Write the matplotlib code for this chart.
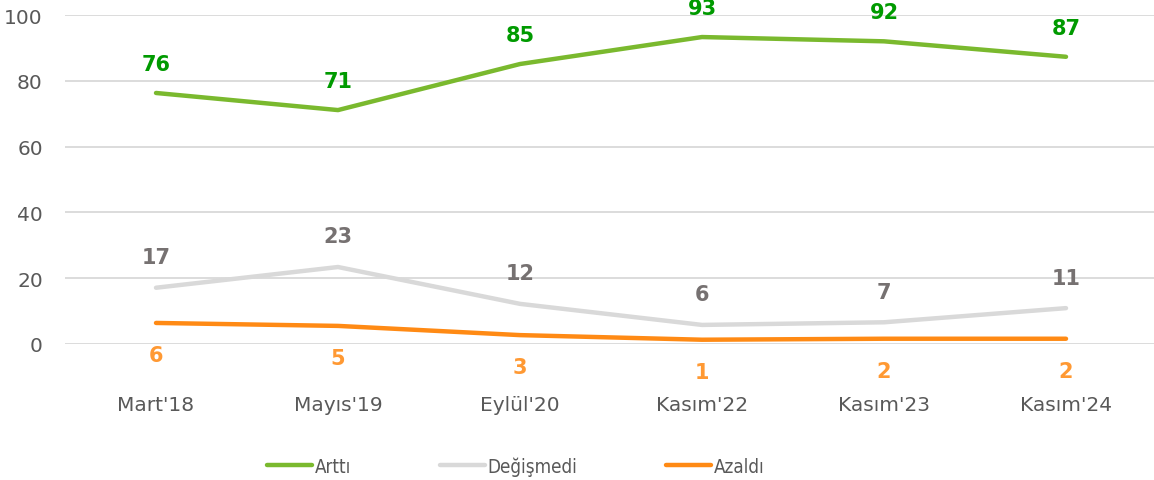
import matplotlib
matplotlib.use("Agg")
import matplotlib.pyplot as plt
from matplotlib.font_manager import FontProperties

categories = ["Mart'18", "Mayıs'19", "Eylül'20", "Kasım'22", "Kasım'23", "Kasım'24"]
artti = [76.3, 71.1, 85.1, 93.3, 92.0, 87.3]
degismedi = [17.1, 23.4, 12.2, 5.8, 6.6, 10.9]
azaldi = [6.4, 5.5, 2.7, 1.3, 1.6, 1.6]
artti_labels = [76, 71, 85, 93, 92, 87]
degismedi_labels = [17, 23, 12, 6, 7, 11]
azaldi_labels = [6, 5, 3, 1, 2, 2]

plt.rcParams['font.family'] = ['DejaVu Sans']

fig = plt.figure(figsize=(11.54, 4.81), dpi=100)
ax = fig.add_axes([65/1154, 1-345/481, (1157-65)/1154, (345-16)/481])

x = list(range(len(categories)))
series = [
    ("Arttı", artti, artti_labels, "#7AB92E", "#009A00", 21),
    ("Değişmedi", degismedi, degismedi_labels, "#D9D9D9", "#767171", 22),
    ("Azaldı", azaldi, azaldi_labels, "#FF8A14", "#FF9933", -23),
]
for name, vals, labs, lc, tc, off in series:
    ax.plot(x, vals, color=lc, lw=3.2, solid_capstyle='round', solid_joinstyle='round', label=name, zorder=3)
    for xi, v, lab in zip(x, vals, labs):
        ax.annotate(str(lab), (xi, v), xytext=(0, off), textcoords='offset points',
                    ha='center', va='center', color=tc, fontsize=15, fontweight='bold',
                    family='DejaVu Sans', annotation_clip=False)

ax.set_xlim(-0.5, 5.5)
ax.set_ylim(0, 100)
ax.set_yticks(range(0, 101, 20))
ax.set_xticks(x)
ax.set_xticklabels(categories)
ax.grid(axis='y', color='#D9D9D9', lw=1.3)
ax.set_axisbelow(True)
for s in ax.spines.values():
    s.set_visible(False)
ax.tick_params(axis='both', length=0, labelsize=14.5, colors='#595959')
ax.tick_params(axis='x', pad=37)
ax.tick_params(axis='y', pad=16)

lp = FontProperties(family='DejaVu Sans', stretch='condensed', size=13.5)
leg = fig.legend(loc='center left', bbox_to_anchor=(250/1154, 1-467/481), ncol=3, frameon=False,
                 prop=lp, handlelength=2.4, handletextpad=0.17, columnspacing=4.7,
                 labelcolor='#595959')

fig.savefig("out.png", dpi=100)
